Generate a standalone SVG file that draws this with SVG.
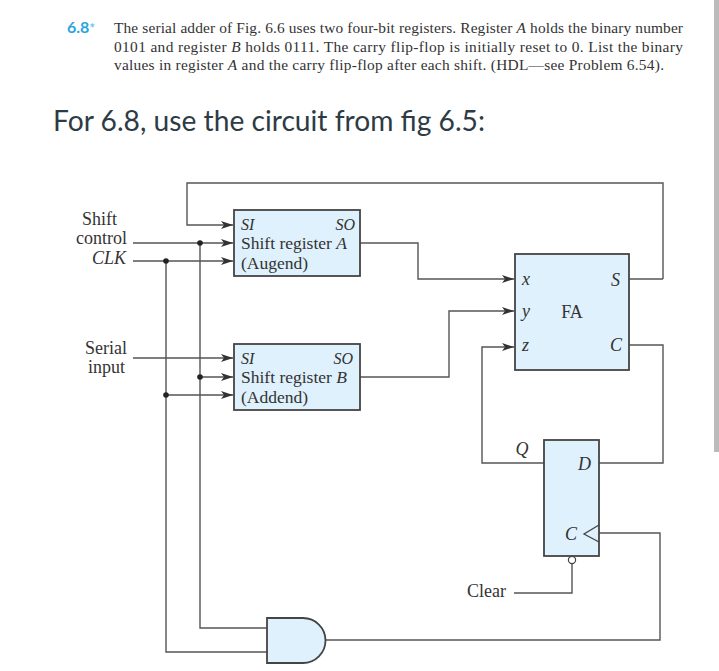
<svg xmlns="http://www.w3.org/2000/svg" width="719" height="671" viewBox="0 0 719 671">
<style>
.t{font-family:"Liberation Serif",serif;font-size:18px;fill:#333}
.r{font-family:"Liberation Serif",serif;font-size:17.5px;fill:#333}
.s{font-family:"Liberation Serif",serif;font-size:16px;font-style:italic;fill:#333}
.i{font-style:italic}
.p{font-family:"Liberation Serif",serif;font-size:15.4px;fill:#333}
.b{fill:#dff1fc;stroke:#444;stroke-width:1.8}
.w{fill:none;stroke:#555;stroke-width:1.4}
.a{marker-end:url(#ah)}
.d{fill:#222}
</style>
<defs>
<marker id="ah" markerUnits="userSpaceOnUse" markerWidth="12" markerHeight="8" refX="12" refY="4" orient="auto"><path d="M0 0L12 4L0 8L3 4Z" fill="#333"/></marker>
</defs>
<rect width="719" height="671" fill="#fff"/>
<rect x="714" y="0" width="5" height="452" fill="#bbb"/>
<g id="problem-text">
<text x="67" y="33" font-family="Lato,sans-serif" font-size="16" font-weight="700" fill="#2ba5de">6.8<tspan font-size="13" fill="#6cc3ea">*</tspan></text>
<text class="p" x="114" y="33" textLength="569" lengthAdjust="spacing">The serial adder of Fig. 6.6 uses two four-bit registers. Register <tspan class="i">A</tspan> holds the binary number</text>
<text class="p" x="114" y="52" textLength="569" lengthAdjust="spacing">0101 and register <tspan class="i">B</tspan> holds 0111. The carry flip-flop is initially reset to 0. List the binary</text>
<text class="p" x="114" y="70" textLength="550" lengthAdjust="spacing">values in register <tspan class="i">A</tspan> and the carry flip-flop after each shift. (HDL—see Problem 6.54).</text>
<text x="53" y="131" font-family="Lato,sans-serif" font-size="28.2" fill="#2d3b45">For 6.8, use the circuit from fig 6.5:</text>
</g>
<g id="connectors">
<path class="w a" d="M663 279V183H187V225H233"/>
<path class="w a" d="M133 243H233"/>
<path class="w a" d="M133 261H233"/>
<path class="w a" d="M133 358H233"/>
<path class="w a" d="M200 377H233"/>
<path class="w a" d="M166 395H233"/>
<path class="w" d="M200 243V628H267"/>
<path class="w" d="M166 261V652H267"/>
<path class="w a" d="M360 243H418V279H514"/>
<path class="w a" d="M360 377H449V311H514"/>
<path class="w a" d="M544 463H482V347H514"/>
<path class="w" d="M629 279H663"/>
<path class="w" d="M629 345H663V463H599"/>
<path class="w" d="M325 640H660V533H599"/>
<path class="w" d="M514 593H572V563"/>
<circle class="d" cx="200" cy="243" r="2.8"/>
<circle class="d" cx="166" cy="261" r="2.8"/>
<circle class="d" cx="200" cy="377" r="2.8"/>
<circle class="d" cx="166" cy="395" r="2.8"/>
</g>
<g id="labels">
<text class="t" x="117" y="225" text-anchor="end">Shift</text>
<text class="t" x="127" y="244" text-anchor="end">control</text>
<text class="t i" x="126" y="264" text-anchor="end">CLK</text>
<text class="t" x="127" y="354" text-anchor="end">Serial</text>
<text class="t" x="125" y="373" text-anchor="end">input</text>
<text class="t" x="467" y="597">Clear</text>
</g>
<g id="register-a">
<rect class="b" x="234" y="210" width="126" height="66"/>
<text class="s" x="241" y="230">SI</text>
<text class="s" x="355" y="230" text-anchor="end">SO</text>
<text class="r" x="241" y="249">Shift register <tspan class="i">A</tspan></text>
<text class="r" x="241" y="268.500">(Augend)</text>
</g>
<g id="register-b">
<rect class="b" x="234" y="344" width="126" height="66"/>
<text class="s" x="241" y="363.500">SI</text>
<text class="s" x="353" y="363.500" text-anchor="end">SO</text>
<text class="r" x="241" y="383">Shift register <tspan class="i">B</tspan></text>
<text class="r" x="241" y="402.500">(Addend)</text>
</g>
<g id="full-adder">
<rect class="b" x="515" y="254" width="114" height="116"/>
<text class="t i" x="522" y="285">x</text>
<text class="t i" x="522" y="317">y</text>
<text class="t i" x="522" y="351">z</text>
<text class="t" x="572" y="318" text-anchor="middle">FA</text>
<text class="t i" x="620" y="286" text-anchor="end">S</text>
<text class="t i" x="622" y="351" text-anchor="end">C</text>
</g>
<g id="flip-flop">
<rect class="b" x="544" y="440" width="55" height="116"/>
<text class="t i" x="522" y="455" text-anchor="middle">Q</text>
<text class="t i" x="591" y="470" text-anchor="end">D</text>
<text class="t i" x="565" y="540">C</text>
<path d="M599 525L584 534L599 542" fill="none" stroke="#444" stroke-width="1.3"/>
<circle cx="572" cy="560" r="3.6" fill="#fff" stroke="#444" stroke-width="1.2"/>
</g>
<g id="and-gate">
<path class="b" d="M267 618H303A22.500 22.500 0 0 1 303 663H267Z"/>
</g>
</svg>
